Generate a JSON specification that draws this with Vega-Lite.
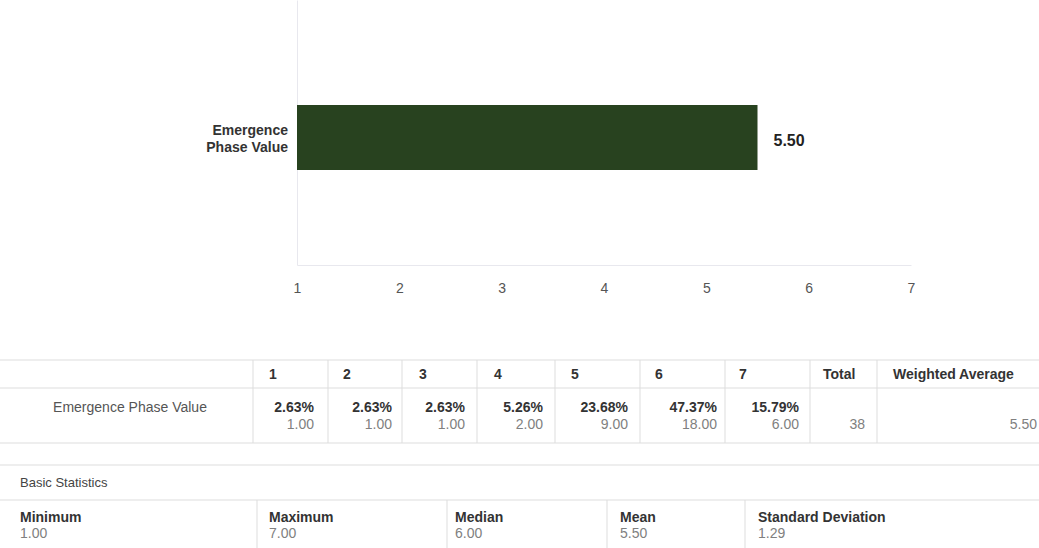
{
  "$schema": "https://vega.github.io/schema/vega-lite/v6.json",
  "width": 1039,
  "height": 548,
  "autosize": {"type": "none"},
  "padding": 0,
  "background": "white",
  "config": {"view": {"stroke": null}, "font": "Liberation Sans, Arial, sans-serif"},
  "datasets": {
    "bar": [{"question": "Emergence Phase Value", "label": "Emergence\nPhase Value", "average": 5.5}],
    "hlines": [{"line": 0}, {"line": 1}, {"line": 2}, {"line": 3}, {"line": 4}],
    "vlines": [
      {"v": 0, "from": 0, "to": 2}, {"v": 1, "from": 0, "to": 2}, {"v": 2, "from": 0, "to": 2},
      {"v": 3, "from": 0, "to": 2}, {"v": 4, "from": 0, "to": 2}, {"v": 5, "from": 0, "to": 2},
      {"v": 6, "from": 0, "to": 2}, {"v": 7, "from": 0, "to": 2}, {"v": 8, "from": 0, "to": 2},
      {"v": 9, "from": 4, "to": 5}, {"v": 10, "from": 4, "to": 5}, {"v": 11, "from": 4, "to": 5}, {"v": 12, "from": 4, "to": 5}
    ],
    "table": [
      {"kind": "head", "row": 0, "col": 1, "text": "1"},
      {"kind": "head", "row": 0, "col": 2, "text": "2"},
      {"kind": "head", "row": 0, "col": 3, "text": "3"},
      {"kind": "head", "row": 0, "col": 4, "text": "4"},
      {"kind": "head", "row": 0, "col": 5, "text": "5"},
      {"kind": "head", "row": 0, "col": 6, "text": "6"},
      {"kind": "head", "row": 0, "col": 7, "text": "7"},
      {"kind": "head", "row": 0, "col": 8, "text": "Total"},
      {"kind": "head", "row": 0, "col": 9, "text": "Weighted Average"},
      {"kind": "rowlabel", "row": 1, "col": 0, "text": "Emergence Phase Value"},
      {"kind": "pct", "row": 1, "col": 1, "text": "2.63%"},
      {"kind": "pct", "row": 1, "col": 2, "text": "2.63%"},
      {"kind": "pct", "row": 1, "col": 3, "text": "2.63%"},
      {"kind": "pct", "row": 1, "col": 4, "text": "5.26%"},
      {"kind": "pct", "row": 1, "col": 5, "text": "23.68%"},
      {"kind": "pct", "row": 1, "col": 6, "text": "47.37%"},
      {"kind": "pct", "row": 1, "col": 7, "text": "15.79%"},
      {"kind": "count", "row": 2, "col": 1, "text": "1.00"},
      {"kind": "count", "row": 2, "col": 2, "text": "1.00"},
      {"kind": "count", "row": 2, "col": 3, "text": "1.00"},
      {"kind": "count", "row": 2, "col": 4, "text": "2.00"},
      {"kind": "count", "row": 2, "col": 5, "text": "9.00"},
      {"kind": "count", "row": 2, "col": 6, "text": "18.00"},
      {"kind": "count", "row": 2, "col": 7, "text": "6.00"},
      {"kind": "count", "row": 2, "col": 8, "text": "38"},
      {"kind": "count", "row": 2, "col": 9, "text": "5.50"},
      {"kind": "bstitle", "row": 3, "col": 0, "text": "Basic Statistics"},
      {"kind": "statname", "row": 4, "col": 0, "text": "Minimum"},
      {"kind": "statname", "row": 4, "col": 1, "text": "Maximum"},
      {"kind": "statname", "row": 4, "col": 2, "text": "Median"},
      {"kind": "statname", "row": 4, "col": 3, "text": "Mean"},
      {"kind": "statname", "row": 4, "col": 4, "text": "Standard Deviation"},
      {"kind": "statvalue", "row": 5, "col": 0, "text": "1.00"},
      {"kind": "statvalue", "row": 5, "col": 1, "text": "7.00"},
      {"kind": "statvalue", "row": 5, "col": 2, "text": "6.00"},
      {"kind": "statvalue", "row": 5, "col": 3, "text": "5.50"},
      {"kind": "statvalue", "row": 5, "col": 4, "text": "1.29"}
    ]
  },
  "layer": [
    {
      "data": {"name": "bar"},
      "mark": {"type": "bar", "color": "#28421f"},
      "encoding": {
        "x": {"field": "average", "type": "quantitative",
          "scale": {"domain": [1, 7], "range": [297, 911], "nice": false, "zero": false},
          "axis": {"orient": "bottom", "offset": -283, "values": [1, 2, 3, 4, 5, 6, 7], "title": null, "ticks": false, "grid": false,
            "domainColor": "#e8e8ee", "labelPadding": 16, "labelFontSize": 14, "labelColor": "#555555", "labelFlush": false}},
        "x2": {"datum": 1},
        "y": {"field": "question", "type": "nominal",
          "scale": {"type": "band", "range": [0, 265], "paddingInner": 0.35, "paddingOuter": 1, "align": 0.525},
          "axis": {"orient": "left", "offset": -297, "labels": false, "ticks": false, "title": null, "grid": false, "domainColor": "#e8e8ee"}}
      }
    },
    {
      "data": {"name": "bar"},
      "mark": {"type": "text", "align": "left", "baseline": "middle", "dx": 16, "dy": 3, "fontSize": 16, "fontWeight": "bold", "color": "#222222"},
      "encoding": {
        "x": {"field": "average", "type": "quantitative", "scale": {"domain": [1, 7], "range": [297, 911], "nice": false, "zero": false}, "axis": null},
        "y": {"field": "question", "type": "nominal", "scale": {"type": "band", "range": [0, 265], "paddingInner": 0.35, "paddingOuter": 1, "align": 0.525}, "axis": null},
        "text": {"field": "average", "format": ".2f"}
      }
    },
    {
      "data": {"name": "bar"},
      "mark": {"type": "text", "align": "right", "baseline": "middle", "dx": -9, "dy": -7, "fontSize": 14, "fontWeight": "bold", "lineBreak": "\n", "lineHeight": 17, "color": "#333333"},
      "encoding": {
        "x": {"datum": 1, "type": "quantitative", "scale": {"domain": [1, 7], "range": [297, 911], "nice": false, "zero": false}, "axis": null},
        "y": {"field": "question", "type": "nominal", "scale": {"type": "band", "range": [0, 265], "paddingInner": 0.35, "paddingOuter": 1, "align": 0.525}, "axis": null},
        "text": {"field": "label"}
      }
    },
    {
      "data": {"name": "hlines"},
      "mark": {"type": "rule", "color": "#dddddd", "strokeWidth": 1},
      "encoding": {
        "y": {"field": "line", "type": "quantitative", "scale": {"domain": [0, 1, 2, 3, 4, 5], "range": [360, 388, 443, 465, 500, 548], "nice": false, "zero": false}, "axis": null}
      }
    },
    {
      "data": {"name": "vlines"},
      "mark": {"type": "rule", "color": "#dddddd", "strokeWidth": 1},
      "encoding": {
        "x": {"field": "v", "type": "quantitative", "scale": {"domain": [0, 1, 2, 3, 4, 5, 6, 7, 8, 9, 10, 11, 12], "range": [253, 328, 402, 477, 555, 640, 725, 810, 877, 257, 447, 607, 745], "nice": false, "zero": false}, "axis": null},
        "y": {"field": "from", "type": "quantitative", "scale": {"domain": [0, 1, 2, 3, 4, 5], "range": [360, 388, 443, 465, 500, 548], "nice": false, "zero": false}, "axis": null},
        "y2": {"field": "to"}
      }
    },
    {
      "data": {"name": "table"},
      "transform": [{"filter": "datum.kind == 'head'"}],
      "mark": {"type": "text", "align": "left", "baseline": "middle", "fontSize": 14, "fontWeight": "bold", "color": "#333333"},
      "encoding": {
        "x": {"field": "col", "type": "quantitative", "scale": {"domain": [1, 2, 3, 4, 5, 6, 7, 8, 9], "range": [269, 343, 419, 494, 571, 655, 739, 823, 893], "nice": false, "zero": false}, "axis": null},
        "y": {"field": "row", "type": "quantitative", "scale": {"domain": [0, 1, 2, 3, 4, 5], "range": [375, 408, 425, 483, 518, 534], "nice": false, "zero": false}, "axis": null},
        "text": {"field": "text"}
      }
    },
    {
      "data": {"name": "table"},
      "transform": [{"filter": "datum.kind == 'pct'"}],
      "mark": {"type": "text", "align": "right", "baseline": "middle", "fontSize": 14, "fontWeight": "bold", "color": "#333333"},
      "encoding": {
        "x": {"field": "col", "type": "quantitative", "scale": {"domain": [0, 1, 2, 3, 4, 5, 6, 7, 8, 9], "range": [127, 314, 392, 465, 543, 628, 717, 799, 865, 1037], "nice": false, "zero": false}, "axis": null},
        "y": {"field": "row", "type": "quantitative", "scale": {"domain": [0, 1, 2, 3, 4, 5], "range": [375, 408, 425, 483, 518, 534], "nice": false, "zero": false}, "axis": null},
        "text": {"field": "text"}
      }
    },
    {
      "data": {"name": "table"},
      "transform": [{"filter": "datum.kind == 'count'"}],
      "mark": {"type": "text", "align": "right", "baseline": "middle", "fontSize": 14, "color": "#808080"},
      "encoding": {
        "x": {"field": "col", "type": "quantitative", "scale": {"domain": [0, 1, 2, 3, 4, 5, 6, 7, 8, 9], "range": [127, 314, 392, 465, 543, 628, 717, 799, 865, 1037], "nice": false, "zero": false}, "axis": null},
        "y": {"field": "row", "type": "quantitative", "scale": {"domain": [0, 1, 2, 3, 4, 5], "range": [375, 408, 425, 483, 518, 534], "nice": false, "zero": false}, "axis": null},
        "text": {"field": "text"}
      }
    },
    {
      "data": {"name": "table"},
      "transform": [{"filter": "datum.kind == 'rowlabel'"}],
      "mark": {"type": "text", "align": "center", "baseline": "middle", "fontSize": 14, "color": "#555555"},
      "encoding": {
        "x": {"field": "col", "type": "quantitative", "scale": {"domain": [0, 1, 2, 3, 4, 5, 6, 7, 8, 9], "range": [130, 314, 392, 465, 543, 628, 717, 799, 865, 1037], "nice": false, "zero": false}, "axis": null},
        "y": {"field": "row", "type": "quantitative", "scale": {"domain": [0, 1, 2, 3, 4, 5], "range": [375, 408, 425, 483, 518, 534], "nice": false, "zero": false}, "axis": null},
        "text": {"field": "text"}
      }
    },
    {
      "data": {"name": "table"},
      "transform": [{"filter": "datum.kind == 'bstitle'"}],
      "mark": {"type": "text", "align": "left", "baseline": "middle", "fontSize": 13, "color": "#444444"},
      "encoding": {
        "x": {"field": "col", "type": "quantitative", "scale": {"domain": [0, 1, 2, 3, 4], "range": [20, 269, 455, 620, 758], "nice": false, "zero": false}, "axis": null},
        "y": {"field": "row", "type": "quantitative", "scale": {"domain": [0, 1, 2, 3, 4, 5], "range": [375, 408, 425, 483, 518, 534], "nice": false, "zero": false}, "axis": null},
        "text": {"field": "text"}
      }
    },
    {
      "data": {"name": "table"},
      "transform": [{"filter": "datum.kind == 'statname'"}],
      "mark": {"type": "text", "align": "left", "baseline": "middle", "fontSize": 14, "fontWeight": "bold", "color": "#333333"},
      "encoding": {
        "x": {"field": "col", "type": "quantitative", "scale": {"domain": [0, 1, 2, 3, 4], "range": [20, 269, 455, 620, 758], "nice": false, "zero": false}, "axis": null},
        "y": {"field": "row", "type": "quantitative", "scale": {"domain": [0, 1, 2, 3, 4, 5], "range": [375, 408, 425, 483, 518, 534], "nice": false, "zero": false}, "axis": null},
        "text": {"field": "text"}
      }
    },
    {
      "data": {"name": "table"},
      "transform": [{"filter": "datum.kind == 'statvalue'"}],
      "mark": {"type": "text", "align": "left", "baseline": "middle", "fontSize": 14, "color": "#808080"},
      "encoding": {
        "x": {"field": "col", "type": "quantitative", "scale": {"domain": [0, 1, 2, 3, 4], "range": [20, 269, 455, 620, 758], "nice": false, "zero": false}, "axis": null},
        "y": {"field": "row", "type": "quantitative", "scale": {"domain": [0, 1, 2, 3, 4, 5], "range": [375, 408, 425, 483, 518, 534], "nice": false, "zero": false}, "axis": null},
        "text": {"field": "text"}
      }
    }
  ],
  "resolve": {"scale": {"x": "independent", "y": "independent"}, "axis": {"x": "independent", "y": "independent"}}
}
